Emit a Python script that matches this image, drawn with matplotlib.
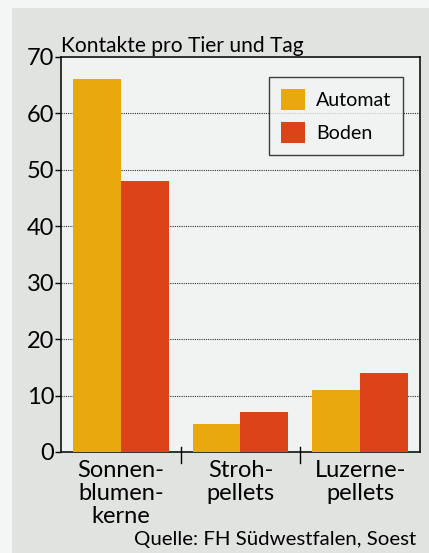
import matplotlib
matplotlib.use("Agg")
from matplotlib import pyplot as plt, patches
import numpy as np

# data
categories = ["Sonnen-\nblumen-\nkerne", "Stroh-\npellets", "Luzerne-\npellets"]
automat = [66, 5, 11]
boden = [48, 7, 14]
series_names = ["Automat", "Boden"]
yticks = [0, 10, 20, 30, 40, 50, 60, 70]

plt.rcParams['font.family'] = ['Lato', 'DejaVu Sans']

W, H = 429, 553
fig = plt.figure(figsize=(W / 100, H / 100), dpi=100)
fig.patch.set_facecolor('#f4f5f5')

# gray panel behind the chart (the magazine box)
fig.patches.append(patches.Rectangle((12 / W, 0), 1, 1 - 8 / H,
                                     transform=fig.transFigure,
                                     facecolor='#e1e3e1', edgecolor='none',
                                     zorder=-10))

left, right, top, bottom = 61, 420, 56.5, 452
ax = fig.add_axes([left / W, 1 - bottom / H, (right - left) / W, (bottom - top) / H])
ax.set_facecolor('#f1f3f3')

x = np.arange(len(categories))
w = 0.4
ax.bar(x - w / 2, automat, w, color='#e9a80e', label=series_names[0], zorder=3)
ax.bar(x + w / 2, boden, w, color='#dc4318', label=series_names[1], zorder=3)

ax.set_xlim(-0.5, len(categories) - 0.5)
ax.set_ylim(0, 70)
ax.set_yticks(yticks)
ax.set_yticklabels([str(t) for t in yticks], fontsize=17)
for t in yticks[1:-1]:
    ax.axhline(t, color='#333333', lw=0.8, ls=(0, (1, 1)), zorder=1)

# category labels with dividers between groups
ax.set_xticks(x)
ax.set_xticklabels(categories, fontsize=17, linespacing=1.12)
ax.tick_params(axis='x', length=0, pad=6)
ax.tick_params(axis='y', length=4, width=1, direction='out', pad=1)
for d in x[:-1] + 0.5:
    ax.plot([d, d], [-0.028, 0.013], transform=ax.get_xaxis_transform(),
            color='black', lw=1, clip_on=False, zorder=4)

for s in ax.spines.values():
    s.set_linewidth(1.2)
    s.set_color('#111111')

ax.text(0.0, 1.0, "Kontakte pro Tier und Tag", transform=ax.transAxes,
        fontsize=15.1, ha='left', va='bottom')

leg = ax.legend(loc='upper right', bbox_to_anchor=(0.953, 0.948), fontsize=14.1,
                frameon=True, fancybox=False, edgecolor='#111111',
                handlelength=1.25, handleheight=1.25, borderpad=0.6,
                labelspacing=0.65, handletextpad=0.55, borderaxespad=0)
leg.get_frame().set_facecolor('#f1f3f3')
leg.get_frame().set_linewidth(1.0)

fig.text(416 / W, 1 - 540 / H, "Quelle: FH Südwestfalen, Soest",
         fontsize=14.7, ha='right', va='center')

fig.savefig("out.png", dpi=100, facecolor=fig.get_facecolor())
